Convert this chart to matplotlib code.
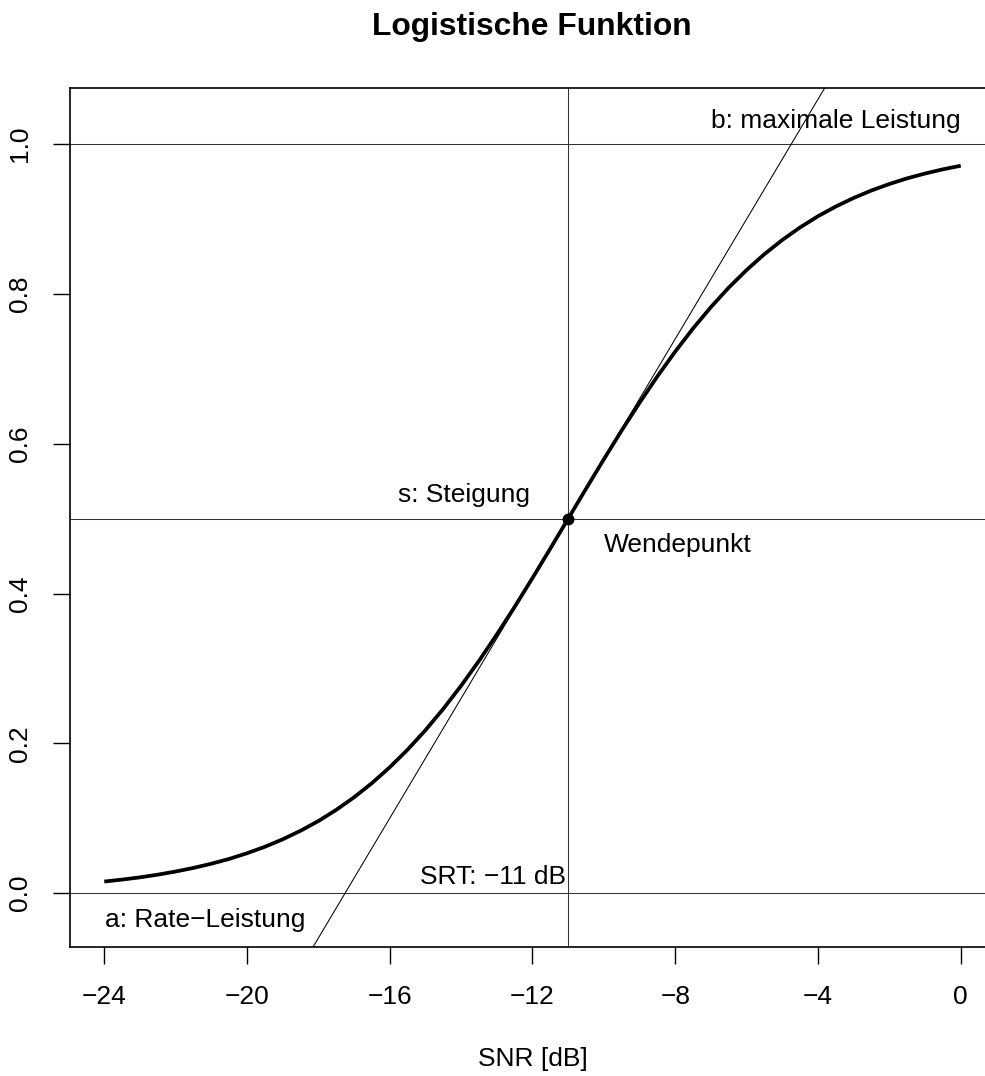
import matplotlib
matplotlib.use("Agg")
import matplotlib.pyplot as plt

plt.rcParams['font.family'] = ['Liberation Sans', 'DejaVu Sans']

# values (0.5 dB steps)
snr = [-24, -23.5, -23, -22.5, -22, -21.5, -21, -20.5, -20, -19.5, -19,
       -18.5, -18, -17.5, -17, -16.5, -16, -15.5, -15, -14.5, -14, -13.5,
       -13, -12.5, -12, -11.5, -11, -10.5, -10, -9.5, -9, -8.5, -8, -7.5,
       -7, -6.5, -6, -5.5, -5, -4.5, -4, -3.5, -3, -2.5, -2, -1.5, -1,
       -0.5, 0]
leistung = [0.0154, 0.0180, 0.0210, 0.0246, 0.0288, 0.0336, 0.0392, 0.0456,
            0.0532, 0.0618, 0.0718, 0.0832, 0.0962, 0.1111, 0.1279, 0.1468,
            0.1680, 0.1915, 0.2175, 0.2460, 0.2769, 0.3100, 0.3453, 0.3822,
            0.4207, 0.4601, 0.5000, 0.5399, 0.5793, 0.6178, 0.6547, 0.6900,
            0.7231, 0.7540, 0.7825, 0.8085, 0.8320, 0.8532, 0.8721, 0.8889,
            0.9038, 0.9168, 0.9282, 0.9382, 0.9468, 0.9544, 0.9608, 0.9664,
            0.9712]

srt = -11          # Wendepunkt x
mitte = 0.5        # Wendepunkt y
steigung = 0.08    # slope of tangent at Wendepunkt
rate = 0.0         # a
maximum = 1.0      # b

xticks = [-24, -20, -16, -12, -8, -4, 0]
yticks = [0.0, 0.2, 0.4, 0.6, 0.8, 1.0]

fig = plt.figure(figsize=(9.85, 10.76), dpi=100)
ax = fig.add_axes([70 / 985, 129 / 1076, 925 / 985, 859 / 1076])

thin = dict(color='#333333', lw=0.75)
ax.axhline(rate, **thin)
ax.axhline(maximum, **thin)
ax.axhline(mitte, **thin)
ax.axvline(srt, **thin)
ax.axline((srt, mitte), slope=steigung, color='black', lw=0.75)

ax.plot(snr, leistung, color='black', lw=2.7, solid_capstyle='butt',
        solid_joinstyle='round')
ax.plot([srt], [mitte], 'o', color='black', ms=7.5)

fs = 19
ax.text(0, 1.031, "b: maximale Leistung", ha='right', va='center', fontsize=fs)
ax.text(-12.07, 0.531, "s: Steigung", ha='right', va='center', fontsize=fs)
ax.text(-7.94, 0.465, "Wendepunkt", ha='center', va='center', fontsize=fs)
ax.text(-11.06, 0.021, "SRT: \u221211 dB", ha='right', va='center', fontsize=fs)
ax.text(-23.97, -0.036, "a: Rate\u2212Leistung", ha='left', va='center', fontsize=fs)

ax.set_xlim(-24.96, 0.96)
ax.set_ylim(-0.072, 1.075)
ax.set_xticks(xticks)
ax.set_yticks(yticks)
ax.set_xticklabels([f"{t:d}".replace('-', '\u2212') for t in xticks])
ax.set_yticklabels([f"{t:.1f}" for t in yticks], rotation=90, va='center')
ax.tick_params(labelsize=fs, length=12, width=1.0, pad=15)

for sp in ax.spines.values():
    sp.set_linewidth(1.2)

ax.set_xlabel("SNR [dB]", fontsize=fs, labelpad=28)
fig.text(532 / 985, 1 - 27 / 1076, "Logistische Funktion", ha='center',
         va='center', fontsize=22.9, fontweight='bold')

fig.savefig("out.png", dpi=100)
